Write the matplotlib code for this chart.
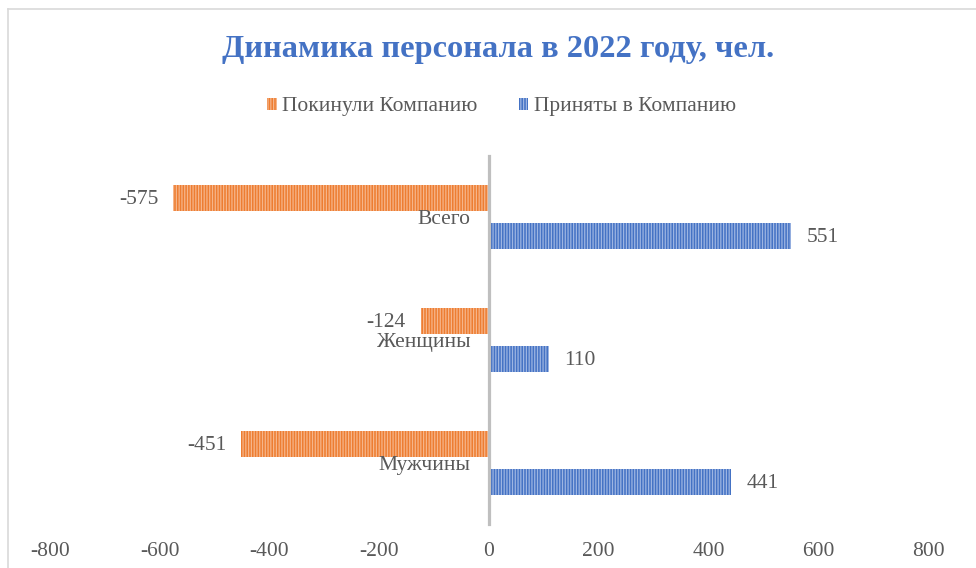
import matplotlib
matplotlib.use("Agg")
import matplotlib.pyplot as plt
from matplotlib.lines import Line2D
import numpy as np

categories = ["Всего", "Женщины", "Мужчины"]
left_vals = [-575, -124, -451]
joined_vals = [551, 110, 441]
series_names = ["Покинули Компанию", "Приняты в Компанию"]
xticks = [-800, -600, -400, -200, 0, 200, 400, 600, 800]
title = "Динамика персонала в 2022 году, чел."

plt.rcParams['font.family'] = ['Liberation Serif', 'DejaVu Serif']
plt.rcParams['hatch.linewidth'] = 0.9

fig = plt.figure(figsize=(9.76, 5.68), dpi=100)
ax = fig.add_axes([0.0512, 0.0775, 0.8996, 0.648])

y = np.arange(len(categories))
h = 0.21
off = 0.155
orange = '#ED7D31'
orange_l = '#F6B58A'
blue = '#4472C4'
blue_l = '#9DB5E2'
gray = '#595959'
fs = 15.5

b1 = ax.barh(y - off, left_vals, height=h, color=orange, edgecolor=orange_l,
             linewidth=0, hatch='||||||', label=series_names[0])
b2 = ax.barh(y + off, joined_vals, height=h, color=blue, edgecolor=blue_l,
             linewidth=0, hatch='||||||', label=series_names[1])

for rect, v in zip(b1, left_vals):
    ax.annotate(str(v), (v, rect.get_y() + rect.get_height() / 2),
                xytext=(-11, -1), textcoords='offset points',
                ha='right', va='center', fontsize=fs, color=gray)
for rect, v in zip(b2, joined_vals):
    ax.annotate(str(v), (v, rect.get_y() + rect.get_height() / 2),
                xytext=(11, -1), textcoords='offset points',
                ha='left', va='center', fontsize=fs, color=gray)

ax.set_xlim(-800, 800)
ax.set_ylim(2.5, -0.5)
ax.set_xticks(xticks)
ax.set_xticklabels([str(t) for t in xticks])
ax.set_yticks(y)
ax.set_yticklabels(categories)
ax.tick_params(axis='x', length=0, pad=13, labelsize=fs, labelcolor=gray)
ax.tick_params(axis='y', length=0, pad=13, labelsize=fs, labelcolor=gray)

for s in ['top', 'right', 'bottom']:
    ax.spines[s].set_visible(False)
ax.spines['left'].set_position(('data', 0))
ax.spines['left'].set_color('#BFBFBF')
ax.spines['left'].set_linewidth(2.3)
ax.spines['left'].set_zorder(3)

fig.text(0.51, 1 - 49 / 568, title, ha='center', va='center',
         fontsize=23.3, fontweight='bold', color=blue)

leg = fig.legend(handles=[b1, b2], labels=series_names, loc='center',
                 bbox_to_anchor=(0.514, 1 - 107 / 568), ncol=2, frameon=False,
                 fontsize=fs, labelcolor=gray, handlelength=0.45, handleheight=0.45,
                 handletextpad=0.25, columnspacing=1.9)

# chart-area border (partially cropped in reference)
fig.add_artist(Line2D([8 / 976, 8 / 976], [0, 1 - 9 / 568], transform=fig.transFigure,
                      color='#D9D9D9', linewidth=1.2))
fig.add_artist(Line2D([8 / 976, 1], [1 - 9 / 568, 1 - 9 / 568], transform=fig.transFigure,
                      color='#D9D9D9', linewidth=1.2))

fig.savefig('out.png', dpi=100, facecolor='white')
